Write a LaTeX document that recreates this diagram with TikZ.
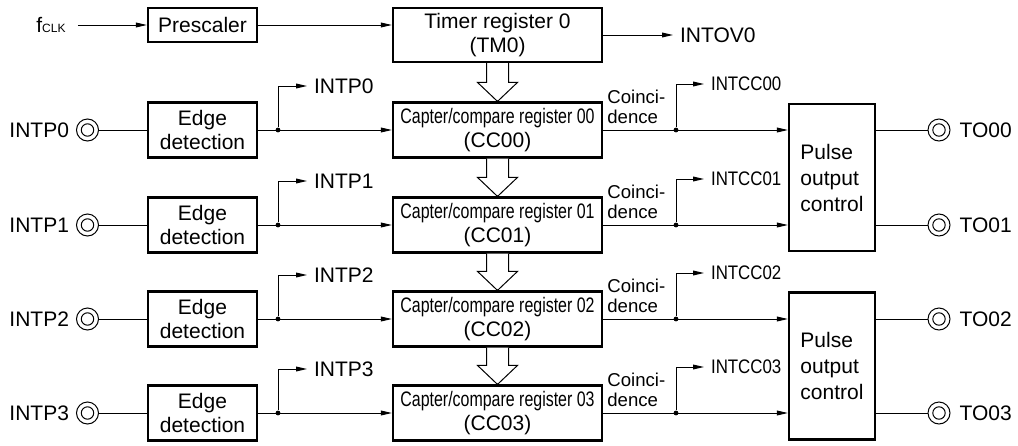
\documentclass[tikz,border=0pt]{standalone}
\usepackage{fontspec}
\setmainfont{Liberation Sans}
\newfontfamily\condfont[FakeStretch=0.76]{Liberation Sans}
\newfontfamily\semicondfont[FakeStretch=0.86]{Liberation Sans}
\usetikzlibrary{positioning,calc,arrows.meta}

% wide open arrow between two stacked registers
\newcommand{\hollowarrow}[2]{%
  \draw[wire, fill=white] ($(#1.south)+(-11,0)$) -- ($(#2.north)+(-11,-19)$)
    -- ($(#2.north)+(-20,-19)$) -- (#2.north) -- ($(#2.north)+(20,-19)$)
    -- ($(#2.north)+(11,-19)$) -- ($(#1.south)+(11,0)$);}

\begin{document}
\begin{tikzpicture}[x=0.5pt, y=-0.5pt,
    font=\fontsize{10.5}{12}\selectfont,
    box/.style={draw, line width=1.1pt, inner sep=0pt, align=center},
    edgebox/.style={box, minimum width=54.5pt, minimum height=27.5pt},
    ccbox/.style={box, minimum width=104.5pt, minimum height=27.5pt},
    pulsebox/.style={box, minimum width=43pt, minimum height=73.5pt, align=left,
      font=\fontsize{10.5}{13}\selectfont},
    wire/.style={line width=0.5pt},
    sig/.style={wire, -{Triangle[length=5.5pt,width=2.4pt]}},
    term/.style={circle, draw, line width=0.5pt, minimum size=11pt, inner sep=0pt,
      path picture={\draw[line width=0.5pt] (path picture bounding box.center) circle (3.1pt);}},
    coin/.style={anchor=west, inner xsep=1pt, align=left, font=\fontsize{9.3}{10}\selectfont},
    intcc/.style={anchor=west, font=\semicondfont\fontsize{9.8}{10}\selectfont},
    dot/.style={circle, fill, inner sep=0pt, minimum size=2.4pt}]
    \useasboundingbox (0,0) rectangle (1018,445);

    % Clock and timer
    \node[inner xsep=6pt] (fclk) at (51,25) {f{\fontsize{6}{7}\selectfont CLK}};
    \node[box, minimum width=54.5pt, minimum height=17pt] (pre) at (202.5,25) {Prescaler};
    \node[box, minimum width=104.5pt, minimum height=27pt] (tm) at (497.5,35) {Timer register 0\\(TM0)};
    \node[anchor=west] (ov) at (673,35) {INTOV0};
    \draw[sig] (fclk) -- (pre);
    \draw[sig] (pre.east) -- (pre.east -| tm.west);
    \draw[sig] (tm) -- (ov);

    % Pulse output controls
    \node[pulsebox] (po0) at (832,177.5) {Pulse\\output\\control};
    \node[pulsebox] (po1) at (832,366) {Pulse\\output\\control};

    % Channel 0
    \node[term] (in0) at (87.5,130) {};
    \node[left=0pt of in0] (nin0) {INTP0};
    \node[edgebox] (ed0) at (202.5,130) {Edge\\detection};
    \node[ccbox] (cc0) at (497.5,130) {{\condfont Capter/compare register 00}\\(CC00)};
    \node[anchor=west] (ip0) at (307,86) {INTP0};
    \node[coin] (cn0) at (605,107) {Coinci-\\dence};
    \node[intcc] (ic0) at (704,84) {INTCC00};
    \node[dot] (j0) at (278,130) {};
    \node[dot] (k0) at (676,130) {};
    \node[term] (to0) at (939,130) {};
    \node[right=1pt of to0] (nto0) {TO00};
    \draw[wire] (in0) -- (ed0);
    \draw[sig] (ed0) -- (cc0);
    \draw[sig] (j0) |- (ip0);
    \draw[sig] (cc0) -- (cc0 -| po0.west);
    \draw[sig] (k0) |- (ic0);
    \draw[wire] (to0 -| po0.east) -- (to0);

    % Channel 1
    \node[term] (in1) at (87.5,225) {};
    \node[left=0pt of in1] (nin1) {INTP1};
    \node[edgebox] (ed1) at (202.5,225) {Edge\\detection};
    \node[ccbox] (cc1) at (497.5,225) {{\condfont Capter/compare register 01}\\(CC01)};
    \node[anchor=west] (ip1) at (307,181) {INTP1};
    \node[coin] (cn1) at (605,202) {Coinci-\\dence};
    \node[intcc] (ic1) at (704,179) {INTCC01};
    \node[dot] (j1) at (278,225) {};
    \node[dot] (k1) at (676,225) {};
    \node[term] (to1) at (939,225) {};
    \node[right=1pt of to1] (nto1) {TO01};
    \draw[wire] (in1) -- (ed1);
    \draw[sig] (ed1) -- (cc1);
    \draw[sig] (j1) |- (ip1);
    \draw[sig] (cc1) -- (cc1 -| po0.west);
    \draw[sig] (k1) |- (ic1);
    \draw[wire] (to1 -| po0.east) -- (to1);

    % Channel 2
    \node[term] (in2) at (87.5,319) {};
    \node[left=0pt of in2] (nin2) {INTP2};
    \node[edgebox] (ed2) at (202.5,319) {Edge\\detection};
    \node[ccbox] (cc2) at (497.5,319) {{\condfont Capter/compare register 02}\\(CC02)};
    \node[anchor=west] (ip2) at (307,275) {INTP2};
    \node[coin] (cn2) at (605,296) {Coinci-\\dence};
    \node[intcc] (ic2) at (704,273) {INTCC02};
    \node[dot] (j2) at (278,319) {};
    \node[dot] (k2) at (676,319) {};
    \node[term] (to2) at (939,319) {};
    \node[right=1pt of to2] (nto2) {TO02};
    \draw[wire] (in2) -- (ed2);
    \draw[sig] (ed2) -- (cc2);
    \draw[sig] (j2) |- (ip2);
    \draw[sig] (cc2) -- (cc2 -| po1.west);
    \draw[sig] (k2) |- (ic2);
    \draw[wire] (to2 -| po1.east) -- (to2);

    % Channel 3
    \node[term] (in3) at (87.5,413) {};
    \node[left=0pt of in3] (nin3) {INTP3};
    \node[edgebox] (ed3) at (202.5,413) {Edge\\detection};
    \node[ccbox] (cc3) at (497.5,413) {{\condfont Capter/compare register 03}\\(CC03)};
    \node[anchor=west] (ip3) at (307,369) {INTP3};
    \node[coin] (cn3) at (605,390) {Coinci-\\dence};
    \node[intcc] (ic3) at (704,367) {INTCC03};
    \node[dot] (j3) at (278,413) {};
    \node[dot] (k3) at (676,413) {};
    \node[term] (to3) at (939,413) {};
    \node[right=1pt of to3] (nto3) {TO03};
    \draw[wire] (in3) -- (ed3);
    \draw[sig] (ed3) -- (cc3);
    \draw[sig] (j3) |- (ip3);
    \draw[sig] (cc3) -- (cc3 -| po1.west);
    \draw[sig] (k3) |- (ic3);
    \draw[wire] (to3 -| po1.east) -- (to3);

    % Register transfers
    \hollowarrow{tm}{cc0}
    \hollowarrow{cc0}{cc1}
    \hollowarrow{cc1}{cc2}
    \hollowarrow{cc2}{cc3}
\end{tikzpicture}
\end{document}
